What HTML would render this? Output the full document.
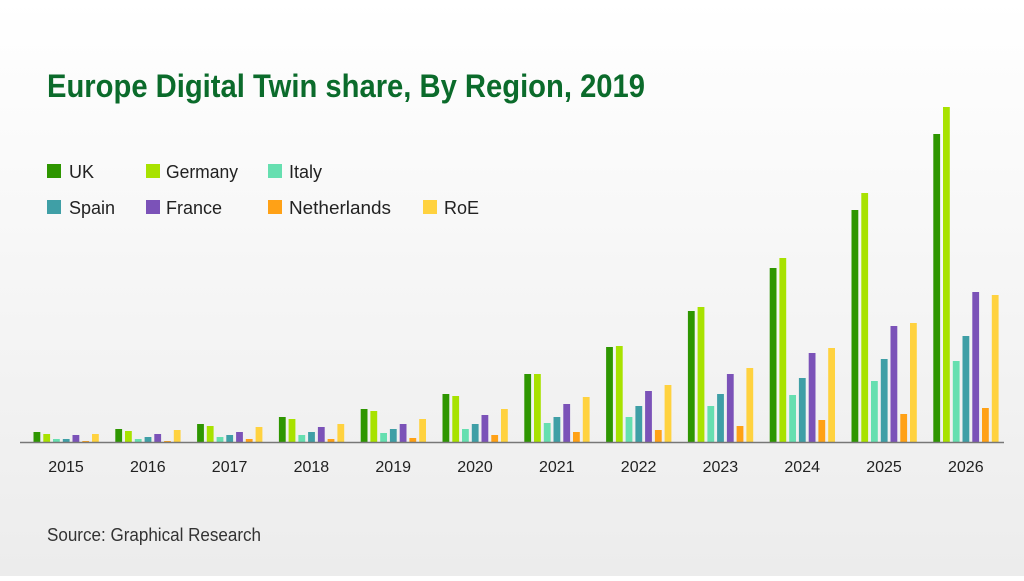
<!DOCTYPE html>
<html><head><meta charset="utf-8"><style>
html,body{margin:0;padding:0}
body{width:1024px;height:576px;overflow:hidden;background:linear-gradient(#ffffff,#ececec);font-family:"Liberation Sans",sans-serif}
</style></head><body>
<svg width="1024" height="576" xmlns="http://www.w3.org/2000/svg" font-family="Liberation Sans, sans-serif">
<text x="47" y="97" font-size="32" font-weight="bold" fill="#0b6b2b" textLength="598" lengthAdjust="spacingAndGlyphs">Europe Digital Twin share, By Region, 2019</text>
<g font-size="18" fill="#222">
<rect x="47" y="164" width="14" height="14" fill="#2e9600"/><text x="69" y="178">UK</text>
<rect x="146" y="164" width="14" height="14" fill="#a8e200"/><text x="166" y="178" textLength="72" lengthAdjust="spacingAndGlyphs">Germany</text>
<rect x="268" y="164" width="14" height="14" fill="#66dfb0"/><text x="289" y="178">Italy</text>
<rect x="47" y="200" width="14" height="14" fill="#3f9fa6"/><text x="69" y="214">Spain</text>
<rect x="146" y="200" width="14" height="14" fill="#7b52b8"/><text x="166" y="214">France</text>
<rect x="268" y="200" width="14" height="14" fill="#ffa116"/><text x="289" y="214" textLength="102" lengthAdjust="spacingAndGlyphs">Netherlands</text>
<rect x="423" y="200" width="14" height="14" fill="#ffd23f"/><text x="444" y="214">RoE</text>
</g>
<g id="bars"></g>
<line x1="20" y1="442.5" x2="1004" y2="442.5" stroke="#777" stroke-width="1.5"/>
<g id="labels" font-size="16" fill="#222" text-anchor="middle"></g>
<text x="47" y="541" font-size="18" fill="#333" textLength="214" lengthAdjust="spacingAndGlyphs">Source: Graphical Research</text>
</svg>
<script>
var tops=[[432,434,439,439,435,441,434],[429,431,439,437,434,441,430],[424,426,437,435,432,439,427],[417,419,435,432,427,439,424],[409,411,433,429,424,438,419],[394,396,429,424,415,435,409],[374,374,423,417,404,432,397],[347,346,417,406,391,430,385],[311,307,406,394,374,426,368],[268,258,395,378,353,420,348],[210,193,381,359,326,414,323],[134,107,361,336,292,408,295]];
var cols=["#2e9600","#a8e200","#66dfb0","#3f9fa6","#7b52b8","#ffa116","#ffd23f"];
var b="",l="";
for(var i=0;i<12;i++){var s=33.5+i*81.8;
for(var j=0;j<7;j++){var x=s+j*9.75;b+='<rect x="'+x.toFixed(1)+'" y="'+tops[i][j]+'" width="6.8" height="'+(442.5-tops[i][j])+'" fill="'+cols[j]+'"/>';}
l+='<text x="'+(s+32.5).toFixed(1)+'" y="472">'+(2015+i)+'</text>';}
document.getElementById("bars").innerHTML=b;document.getElementById("labels").innerHTML=l;
</script>
</body></html>
